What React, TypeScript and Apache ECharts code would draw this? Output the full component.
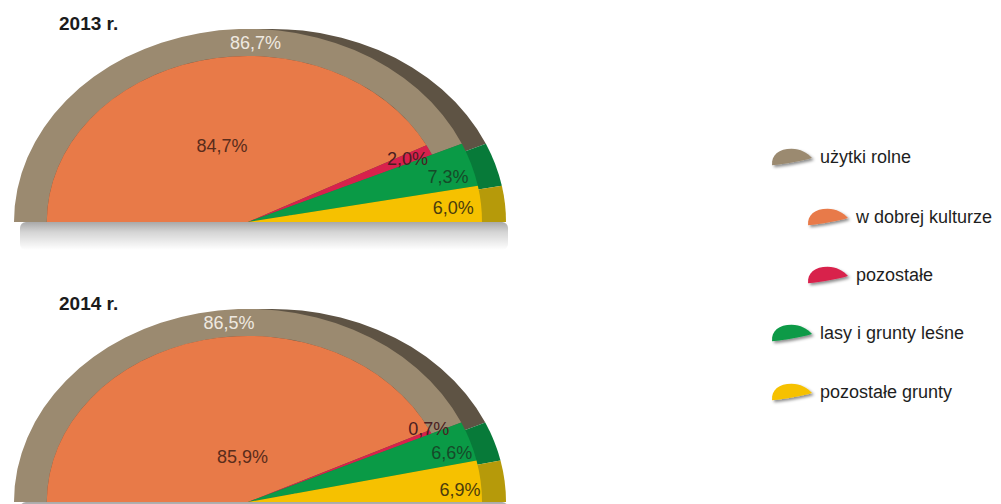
import React, { useEffect, useRef } from "react";
import * as echarts from "echarts";

// ---- data ----
const years = ["2013 r.", "2014 r."];
const categories = [
  "użytki rolne",
  "w dobrej kulturze",
  "pozostałe",
  "lasy i grunty leśne",
  "pozostałe grunty",
];
const agri = [86.7, 86.5]; // użytki rolne
const goodCulture = [84.7, 85.9]; // w dobrej kulturze
const otherAgri = [2.0, 0.7]; // pozostałe
const forest = [7.3, 6.6]; // lasy i grunty leśne
const otherLand = [6.0, 6.9]; // pozostałe grunty

// ---- layout / style ----
const FONT = "'Liberation Sans', Arial, sans-serif";
const CX = 248;
const BASELINES = [222, 502];
const R = 234;
const K = 0.825;
const INNER = 0.86;
const BACK_DX = 24;

const COL = {
  agri: "#9b8a70",
  agriDark: "#5e5344",
  good: "#e87a48",
  other: "#d8214c",
  forest: "#0a9a46",
  forestDark: "#077a39",
  land: "#f6c100",
  landDark: "#b69a0a",
};

const labelR = {
  good: [0.41, 0.234],
  other: [0.757, 0.859],
  forest: [0.886, 0.908],
  land: [0.88, 0.908],
};
const labelAngleShift = {
  good: [2, -7],
  other: [0, 1],
  forest: [-2, -2],
  land: [-0.8, -2.3],
};
const ringLabelAngle = [88, 95];

function geom(y: number) {
  const total = agri[y] + forest[y] + otherLand[y];
  const agriEnd = 180 - (agri[y] / total) * 180;
  const forestEnd = agriEnd - (forest[y] / total) * 180;
  const orangeEnd =
    180 - ((180 - agriEnd) * goodCulture[y]) / (goodCulture[y] + otherAgri[y]);
  return { agriEnd, forestEnd, orangeEnd };
}

const rad = (d: number) => (d * Math.PI) / 180;

function sector(a0: number, a1: number, r0: number, r: number, fill: string, z2: number) {
  return {
    type: "sector",
    z2,
    shape: {
      cx: 0,
      cy: 0,
      r0,
      r,
      startAngle: -rad(a0),
      endAngle: -rad(a1),
      clockwise: true,
    },
    style: { fill },
  };
}

function grp(y: number, back: boolean, children: any[]) {
  return {
    type: "group",
    x: CX + (back ? BACK_DX : 0),
    y: BASELINES[y],
    scaleY: K,
    children,
  };
}

const fmt = (v: number) => v.toFixed(1).replace(".", ",") + "%";

function label(y: number, angle: number, f: number, text: string, fill: string) {
  return {
    type: "text",
    z2: 20,
    style: {
      text,
      x: CX + f * R * Math.cos(rad(angle)),
      y: BASELINES[y] - K * f * R * Math.sin(rad(angle)),
      fill,
      font: `18px ${FONT}`,
      align: "center",
      verticalAlign: "middle",
    },
  };
}

function makeRender(kind: string) {
  return (params: any, api: any) => {
    const y = params.dataIndex;
    const v = api.value(0);
    const g = geom(y);
    const children: any[] = [];
    if (kind === "agri") {
      children.push(grp(y, true, [sector(180, g.agriEnd, 0, R, COL.agriDark, 1)]));
      children.push(grp(y, false, [sector(180, g.agriEnd, INNER * R, R, COL.agri, 5)]));
      children.push(label(y, ringLabelAngle[y], (1 + INNER) / 2, fmt(v), "#efe9e0"));
    } else if (kind === "good") {
      children.push(grp(y, false, [sector(180, g.orangeEnd, 0, INNER * R, COL.good, 5)]));
      const mid = (180 + g.orangeEnd) / 2 + labelAngleShift.good[y];
      children.push(label(y, mid, labelR.good[y], fmt(v), "#5a2c1b"));
    } else if (kind === "other") {
      children.push(grp(y, false, [sector(g.orangeEnd, g.agriEnd, 0, INNER * R, COL.other, 5)]));
      const mid = (g.orangeEnd + g.agriEnd) / 2 + labelAngleShift.other[y];
      children.push(label(y, mid, labelR.other[y], fmt(v), "#4a1d22"));
    } else if (kind === "forest") {
      children.push(grp(y, true, [sector(g.agriEnd, g.forestEnd, 0, R, COL.forestDark, 1)]));
      children.push(grp(y, false, [sector(g.agriEnd, g.forestEnd, 0, R, COL.forest, 5)]));
      const mid = (g.agriEnd + g.forestEnd) / 2 + labelAngleShift.forest[y];
      children.push(label(y, mid, labelR.forest[y], fmt(v), "#164a29"));
    } else {
      children.push(grp(y, true, [sector(g.forestEnd, 0, 0, R, COL.landDark, 1)]));
      children.push(grp(y, false, [sector(g.forestEnd, 0, 0, R, COL.land, 5)]));
      const mid = g.forestEnd / 2 + labelAngleShift.land[y];
      children.push(label(y, mid, labelR.land[y], fmt(v), "#4b3c0c"));
    }
    return { type: "group", children };
  };
}

const LEAF =
  "path://M1,17 C0,7 8,1 20,1 C29,1 35,5 40,10 C30,13 14,16 1,17 Z";

export default function App() {
  const ref = useRef<HTMLDivElement>(null);
  useEffect(() => {
    if (!ref.current) return;
    const chart = echarts.init(ref.current, undefined, { renderer: "svg" });
    const seriesDefs = [
      { name: categories[0], kind: "agri", values: agri, color: COL.agri },
      { name: categories[1], kind: "good", values: goodCulture, color: COL.good },
      { name: categories[2], kind: "other", values: otherAgri, color: COL.other },
      { name: categories[3], kind: "forest", values: forest, color: COL.forest },
      { name: categories[4], kind: "land", values: otherLand, color: COL.land },
    ];
    const legendBase = {
      orient: "vertical",
      padding: 0,
      icon: LEAF,
      itemWidth: 40,
      itemHeight: 18,
      selectedMode: false,
      textStyle: {
        fontSize: 18,
        color: "#1e1e1e",
        fontFamily: FONT,
        padding: [0, 0, 0, 3],
      },
      itemStyle: {
        shadowColor: "rgba(0,0,0,0.45)",
        shadowBlur: 3,
        shadowOffsetX: 2,
        shadowOffsetY: 2,
      },
    };
    const shadowFill = new echarts.graphic.LinearGradient(0, 0, 0, 1, [
      { offset: 0, color: "rgba(0,0,0,0.34)" },
      { offset: 0.35, color: "rgba(0,0,0,0.17)" },
      { offset: 1, color: "rgba(0,0,0,0)" },
    ]);
    chart.setOption({
      animation: false,
      backgroundColor: "#ffffff",
      title: years.map((t, i) => ({
        text: t,
        left: 59,
        top: BASELINES[i] - 208,
        padding: 0,
        textStyle: { fontSize: 19, fontWeight: "bold", color: "#1b1b1b", fontFamily: FONT },
      })),
      legend: [
        { ...legendBase, data: [categories[0]], left: 772, top: 148 },
        { ...legendBase, data: [categories[1], categories[2]], left: 808, top: 208, itemGap: 40 },
        { ...legendBase, data: [categories[3], categories[4]], left: 772, top: 324, itemGap: 41 },
      ],
      graphic: BASELINES.map((b) => ({
        type: "rect",
        z: 0,
        silent: true,
        shape: { x: 20, y: b, width: 488, height: 28, r: 6 },
        style: { fill: shadowFill },
      })),
      series: seriesDefs.map((s) => ({
        type: "custom",
        name: s.name,
        coordinateSystem: "none",
        itemStyle: { color: s.color },
        data: s.values.map((v) => [v]),
        renderItem: makeRender(s.kind),
      })),
    });
    return () => chart.dispose();
  }, []);
  return (
    <div
      ref={ref}
      style={{ position: "absolute", left: 0, top: 0, width: 1001, height: 504 }}
    />
  );
}
